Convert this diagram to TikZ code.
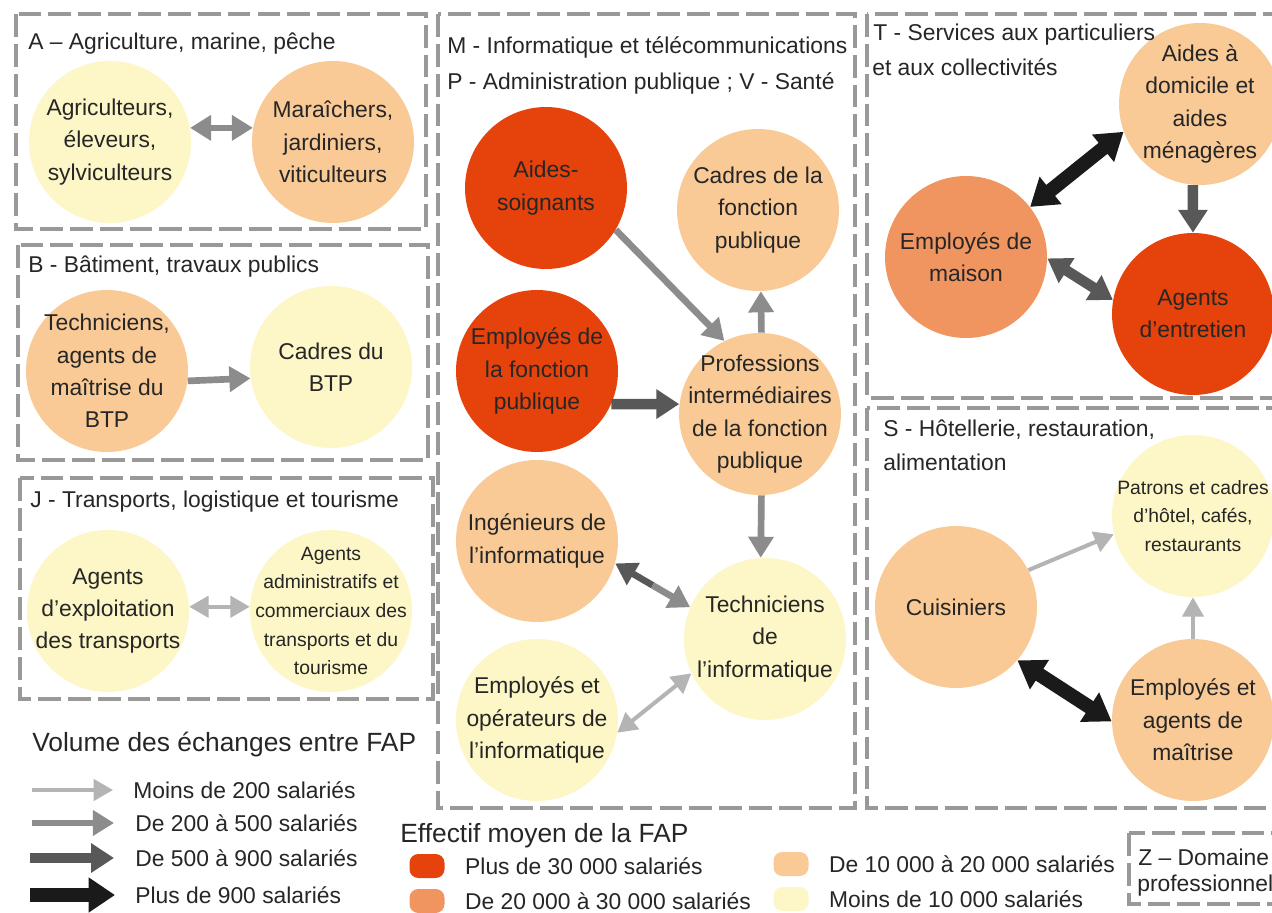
\documentclass[tikz,border=0pt]{standalone}
\usepackage{fontspec}
\setmainfont{Liberation Sans}
\usetikzlibrary{arrows.meta,positioning,calc}

\definecolor{rougefap}{RGB}{229,66,12}
\definecolor{orangefap}{RGB}{240,149,96}
\definecolor{saumonfap}{RGB}{249,202,150}
\definecolor{jaunefap}{RGB}{253,246,198}
\definecolor{grisbord}{RGB}{153,153,153}
\definecolor{grisA}{RGB}{180,180,180}
\definecolor{grisB}{RGB}{140,140,140}
\definecolor{grisC}{RGB}{88,88,88}
\definecolor{grisD}{RGB}{26,26,26}

\begin{document}
\begin{tikzpicture}[x=0.02cm, y=-0.02cm,
    font=\fontsize{13}{18.4}\selectfont,
    domaine/.style={draw=grisbord, line width=2.4pt, dash pattern=on 13pt off 4pt},
    titre/.style={anchor=west, inner sep=0pt, text=black!85},
    metier/.style={circle, minimum size=3.24cm, inner sep=-18pt, align=center, text=black!85},
    petit/.style={font=\fontsize{11}{16.3}\selectfont},
    faible/.style={draw=grisA, line width=2.3pt, >={Triangle[length=11pt,width=12pt]}},
    moyen/.style={draw=grisB, line width=3.8pt, >={Triangle[length=12pt,width=14pt]}},
    fort/.style={draw=grisC, line width=6pt, >={Triangle[length=13pt,width=16pt]}},
    tresfort/.style={draw=grisD, line width=8pt, >={Triangle[length=15pt,width=19pt]}},
    pastille/.style={rounded corners=5pt, minimum width=0.7cm, minimum height=0.48cm, inner sep=0pt}]

    \useasboundingbox (0,0) rectangle (1272,913);
    \fill[white] (0,0) rectangle (1272,913);

    \begin{scope}
        \clip (0,0) rectangle (1272,913);
        \draw[domaine] (16,14) rectangle (426,229);
        \draw[domaine] (18,245) rectangle (428,460);
        \draw[domaine] (20,478) rectangle (433,699);
        \draw[domaine] (438,14) rectangle (855,808);
        \draw[domaine] (867,14) rectangle (1290,398);
        \draw[domaine] (867,408) rectangle (1290,808);
        \draw[domaine] (1129,833) rectangle (1290,904);
    \end{scope}

    % A, B, J
    \node[titre] (tA) at (28,44) {A – Agriculture, marine, pêche};
    \node[metier, fill=jaunefap] (agri) at (110,142) {Agriculteurs,\\éleveurs,\\sylviculteurs};
    \node[metier, fill=saumonfap] (mara) at (333,142) {Maraîchers,\\jardiniers,\\viticulteurs};
    \draw[moyen,<->] (agri.10) -- (mara.170);

    \node[titre] (tB) at (28,267) {B - Bâtiment, travaux publics};
    \node[metier, fill=saumonfap] (techbtp) at (107,371) {Techniciens,\\agents de\\maîtrise du\\BTP};
    \node[metier, fill=jaunefap] (cadbtp) at (331,367) {Cadres du\\BTP};
    \draw[moyen,->] (techbtp.-7) -- (cadbtp.188);

    \node[titre] (tJ) at (30,502) {J - Transports, logistique et tourisme};
    \node[metier, fill=jaunefap] (explo) at (108,611) {Agents\\d'exploitation\\des transports};
    \node[metier, petit, fill=jaunefap] (admtr) at (331,611) {Agents\\administratifs et\\commerciaux des\\transports et du\\tourisme};
    \draw[faible,<->] (explo.3) -- (admtr.177);

    % M, P, V
    \node[titre] (tM) at (447,47) {M - Informatique et télécommunications};
    \node[titre] (tP) at (447,83) {P - Administration publique ; V - Santé};
    \node[metier, fill=rougefap] (as) at (546,188) {Aides-\\soignants};
    \node[metier, fill=saumonfap] (cfp) at (758,210) {Cadres de la\\fonction\\publique};
    \node[metier, fill=rougefap] (efp) at (537,371) {Employés de\\la fonction\\publique};
    \node[metier, fill=saumonfap] (pi) at (760,414) {Professions\\intermédiaires\\de la fonction\\publique};
    \node[metier, fill=saumonfap] (ing) at (537,541) {Ingénieurs de\\l'informatique};
    \node[metier, fill=jaunefap] (ti) at (765,639) {Techniciens\\de\\l'informatique};
    \node[metier, fill=jaunefap] (eo) at (537,720) {Employés et\\opérateurs de\\l'informatique};

    \draw[moyen,->] (as.-31) -- (pi.116);
    \draw[fort,->] (efp.-24) -- (pi.173);
    \draw[moyen,->] (pi.89) -- (cfp.-88);
    \draw[moyen,->] (pi.-89) -- (ti.93);
    \coordinate (mi) at ($(ing.-16)!0.5!(ti.157)$);
    \draw[moyen,->,color=grisC] (mi) -- (ing.-16);
    \draw[moyen,->] (mi) -- (ti.157);
    \draw[faible,<->] (eo.-9) -- (ti.205);

    % T
    \node[metier, fill=saumonfap] (ad) at (1200,104) {Aides à\\domicile et\\aides\\ménagères};
    \node[metier, fill=orangefap] (em) at (966,257) {Employés de\\maison};
    \node[metier, fill=rougefap] (ae) at (1193,314) {Agents\\d'entretien};
    \node[titre] (tT) at (873,35) {T - Services aux particuliers};
    \node[titre] (tT2) at (872,67) {et aux collectivités};
    \draw[tresfort,<->] (em.38) -- (ad.200);
    \draw[fort,->] (ad.-95) -- (ae.north);
    \draw[fort,<->] (em.-1) -- (ae.170);

    % S
    \node[titre] (tS) at (883,430) {S - Hôtellerie, restauration,};
    \node[titre] (tS2) at (883,462) {alimentation};
    \node[metier, petit, fill=jaunefap] (pc) at (1193,516) {Patrons et cadres\\d'hôtel, cafés,\\restaurants};
    \node[metier, fill=saumonfap] (cu) at (956,607) {Cuisiniers};
    \node[metier, fill=saumonfap] (emm) at (1193,720) {Employés et\\agents de\\maîtrise};
    \draw[faible,->] (cu.27) -- (pc.193);
    \draw[faible,->] (emm.north) -- (pc.south);
    \draw[tresfort,<->] (cu.-41) -- (emm.181);

    % Z
    \node[titre] (tZ) at (1138,857) {Z – Domaine};
    \node[titre] (tZ2) at (1137,886) {professionnel};

    % legende des fleches
    \node[titre, font=\fontsize{15}{18}\selectfont] (vol) at (32,745) {Volume des échanges entre FAP};
    \coordinate (vd1) at (32,790);
    \coordinate (vd2) at (32,823);
    \coordinate (vd3) at (30,858);
    \coordinate (vd4) at (30,895);
    \node[titre] (vl1) at (133,790) {Moins de 200 salariés};
    \node[titre] (vl2) at (135,823) {De 200 à 500 salariés};
    \node[titre] (vl3) at (135,858) {De 500 à 900 salariés};
    \node[titre] (vl4) at (135,895) {Plus de 900 salariés};
    \draw[faible,->] (vd1) -- ([xshift=-0.4cm]vl1.west);
    \draw[moyen,->] (vd2) -- ([xshift=-0.42cm]vl2.west);
    \draw[fort,->] (vd3) -- ([xshift=-0.42cm]vl3.west);
    \draw[tresfort,->] (vd4) -- ([xshift=-0.4cm]vl4.west);

    % legende des effectifs
    \node[titre, font=\fontsize{15}{18}\selectfont] (eff) at (400,836) {Effectif moyen de la FAP};
    \node[pastille, fill=rougefap] (e1) at (427,866) {};
    \node[pastille, fill=orangefap] (e2) at (427,901) {};
    \node[pastille, fill=saumonfap] (e3) at (791,864) {};
    \node[pastille, fill=jaunefap] (e4) at (791,899) {};
    \node[titre, right=0.4cm of e1] (le1) {Plus de 30 000 salariés};
    \node[titre, right=0.4cm of e2] (le2) {De 20 000 à 30 000 salariés};
    \node[titre, right=0.4cm of e3] (le3) {De 10 000 à 20 000 salariés};
    \node[titre, right=0.4cm of e4] (le4) {Moins de 10 000 salariés};

\end{tikzpicture}
\end{document}
